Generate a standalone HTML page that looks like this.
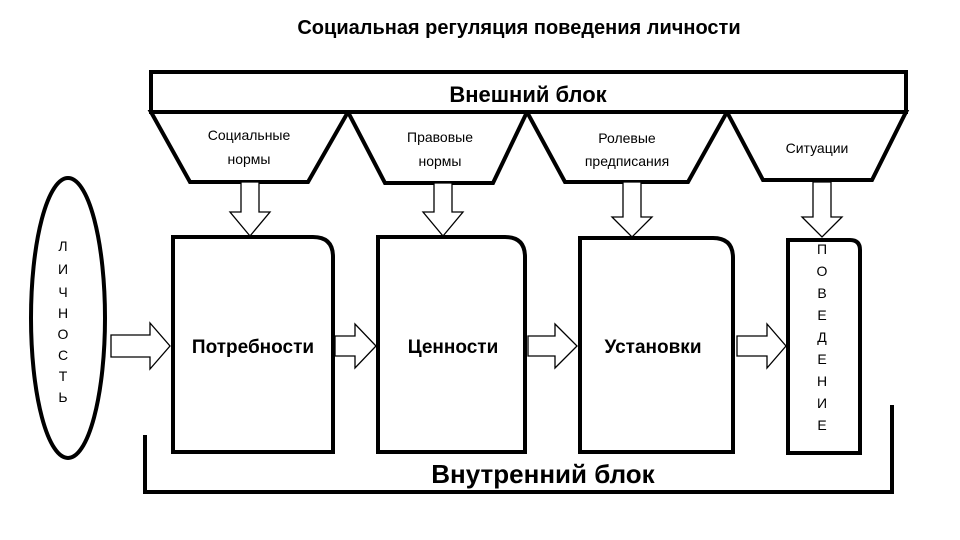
<!DOCTYPE html>
<html><head><meta charset="utf-8"><style>
body{margin:0;background:#fff}
svg{display:block}
text{font-family:"Liberation Sans","DejaVu Sans",sans-serif;fill:#000}
</style></head><body>
<svg width="960" height="540" viewBox="0 0 960 540" xmlns="http://www.w3.org/2000/svg">
<text x="519" y="34" font-size="20" font-weight="bold" text-anchor="middle">Социальная регуляция поведения личности</text>
<g stroke="#000" stroke-width="4" fill="#fff" stroke-linejoin="miter">
<rect x="151" y="72" width="755" height="40"/>
<polygon points="151,112 348,112 308,182 190,182"/>
<polygon points="348,112 527,112 493,183 385,183"/>
<polygon points="527,112 727,112 688,182 565,182"/>
<polygon points="727,112 906,112 872,180 763,180"/>
<path d="M173,237 H313 Q333,237 333,257 V452 H173 Z"/>
<path d="M378,237 H505 Q525,237 525,257 V452 H378 Z"/>
<path d="M580,238 H713 Q733,238 733,258 V452 H580 Z"/>
<path d="M788,240 H850 Q860,240 860,250 V453 H788 Z"/>
<ellipse cx="68" cy="318" rx="37" ry="140"/>
</g>
<g stroke="#000" stroke-width="1.3" fill="#fff">
<polygon points="241,182 259,182 259,212 270,212 250,236 230,212 241,212"/>
<polygon points="434,183 452,183 452,212 463,212 443,236 423,212 434,212"/>
<polygon points="623,182 641,182 641,217 652,217 632,237 612,217 623,217"/>
<polygon points="813,182 831,182 831,217 842,217 822,237 802,217 813,217"/>
<polygon points="111,335 150,335 150,323 170,346 150,369 150,357 111,357"/>
<polygon points="335,336 355,336 355,324 376,346 355,368 355,356 335,356"/>
<polygon points="528,336 555,336 555,324 577,346 555,368 555,356 528,356"/>
<polygon points="737,336 767,336 767,324 786,346 767,368 767,356 737,356"/>
</g>
<polyline points="145,435 145,492 892,492 892,405" fill="none" stroke="#000" stroke-width="4"/>
<text x="528" y="102" font-size="22" font-weight="bold" text-anchor="middle">Внешний блок</text>
<g font-size="14" text-anchor="middle">
<text x="249" y="140">Социальные</text><text x="249" y="164">нормы</text>
<text x="440" y="142">Правовые</text><text x="440" y="166">нормы</text>
<text x="627" y="143">Ролевые</text><text x="627" y="166">предписания</text>
<text x="817" y="153">Ситуации</text>
</g>
<g font-size="19" font-weight="bold" text-anchor="middle">
<text x="253" y="353">Потребности</text>
<text x="453" y="353">Ценности</text>
<text x="653" y="353">Установки</text>
</g>
<g font-size="14" text-anchor="middle">
<text x="63" y="251">Л</text><text x="63" y="274">И</text><text x="63" y="297">Ч</text><text x="63" y="318">Н</text><text x="63" y="339">О</text><text x="63" y="360">С</text><text x="63" y="381">Т</text><text x="63" y="402">Ь</text>
<text x="822" y="254">П</text><text x="822" y="276">О</text><text x="822" y="298">В</text><text x="822" y="320">Е</text><text x="822" y="342">Д</text><text x="822" y="364">Е</text><text x="822" y="386">Н</text><text x="822" y="408">И</text><text x="822" y="430">Е</text>
</g>
<text x="543" y="483" font-size="26" font-weight="bold" text-anchor="middle">Внутренний блок</text>
</svg>
</body></html>
